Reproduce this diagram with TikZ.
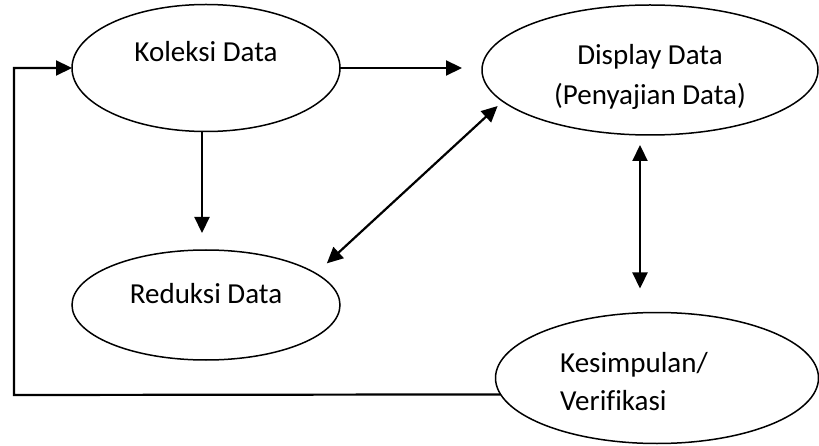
\documentclass[tikz,border=0pt]{standalone}
\usepackage{fontspec}
\setmainfont[Ligatures=NoCommon]{Carlito}
\usetikzlibrary{shapes.geometric,arrows.meta}
\tikzset{
  stage/.style={draw, ellipse, line width=1.5pt, inner sep=0pt, outer sep=0pt},
  lbl/.style={anchor=base, inner sep=0pt, font=\fontsize{29}{35}\selectfont},
  tip/.style={Triangle[length=16pt,width=15pt]},
  flow/.style={line width=2.2pt, -{Triangle[length=16pt,width=15pt]}},
  twoway/.style={line width=2.2pt, {Triangle[length=16pt,width=15pt]}-{Triangle[length=16pt,width=15pt]}},
}
\begin{document}
\begin{tikzpicture}[x=1pt, y=-1pt]
  \useasboundingbox (0,0) rectangle (819,446);

  % stages of the analysis cycle
  \node[stage, minimum width=268pt, minimum height=127pt] (kol) at (206,68) {};
  \node[stage, minimum width=268pt, minimum height=110pt] (red) at (206,305) {};
  \node[stage, minimum width=336pt, minimum height=130pt] (disp) at (650,70) {};
  \node[stage, minimum width=323pt, minimum height=131pt] (kes) at (657,378) {};

  % labels
  \node[lbl] (kolt) at (206,62) {Koleksi Data};
  \node[lbl] (redt) at (206,303) {Reduksi Data};
  \node[lbl] (dispt1) at (650,65) {Display Data};
  \node[lbl] (dispt2) at (650,105) {(Penyajian Data)};
  \node[lbl, anchor=base west] (kest1) at (560,372) {Kesimpulan/};
  \node[lbl, anchor=base west] (kest2) at (560,410) {Verifikasi};

  % connectors
  \coordinate (fb) at (14,395);
  \draw[flow] (kes.186.2) -- (fb) |- (kol.west);
  \draw[flow] (kol.east) -- ([xshift=-20pt]disp.west |- kol.east);
  \draw[flow] ([xshift=-4pt]kol.south) -- ([xshift=-4pt,yshift=17pt]red.north);
  \draw[twoway, shorten <=15pt, shorten >=7pt] (red.16) -- (disp.192.1);
  \draw[twoway] ([xshift=-10pt,yshift=-10pt]disp.south) -- ([xshift=-17pt,yshift=24pt]kes.north);
\end{tikzpicture}
\end{document}
